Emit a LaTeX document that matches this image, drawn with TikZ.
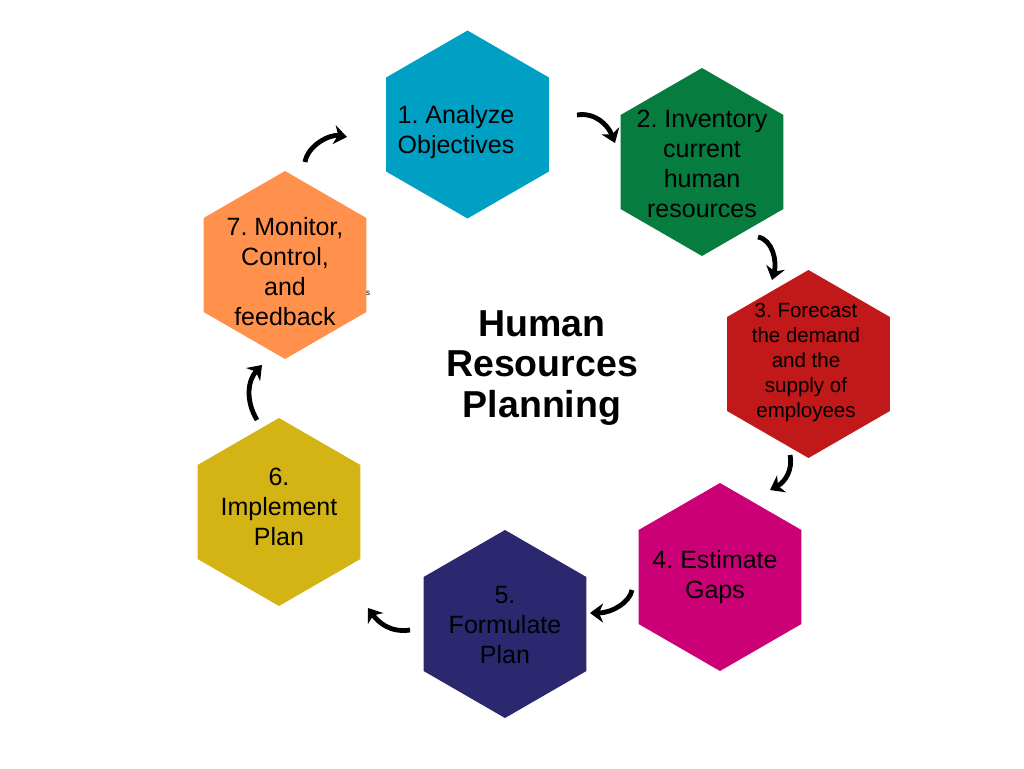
\documentclass[tikz,border=0pt]{standalone}
\usepackage{fontspec}
\setmainfont{Liberation Sans}
\usetikzlibrary{shapes.geometric,arrows.meta}
\definecolor{hcyan}{HTML}{00A0C4}
\definecolor{hgreen}{HTML}{067C3E}
\definecolor{hred}{HTML}{C1181A}
\definecolor{hmag}{HTML}{CB0077}
\definecolor{hnavy}{HTML}{2B2870}
\definecolor{hmust}{HTML}{D4B414}
\definecolor{horange}{HTML}{FF914D}
\frenchspacing
\begin{document}
\begin{tikzpicture}[x=1pt,y=-1pt,
  hexa/.style={regular polygon, regular polygon sides=6, shape border rotate=30,
    minimum size=188pt, inner sep=0pt, draw=none},
  lbl/.style={align=center, text=black, inner sep=0pt, font=\fontsize{25}{30}\selectfont},
  lblsmall/.style={align=center, text=black, inner sep=0pt, font=\fontsize{20.5}{25}\selectfont},
  arr/.style={line width=4.8pt, black, -{Stealth[length=13pt,width=19pt,inset=4pt]}}]
\useasboundingbox (0,0) rectangle (1024,768);
\fill[white] (0,0) rectangle (1024,768);

\node[hexa, fill=hcyan]   (h1) at (467.5,124.5) {};
\node[hexa, fill=hgreen]  (h2) at (702,162) {};
\node[hexa, fill=hred]    (h3) at (808.5,364) {};
\node[hexa, fill=hmag]    (h4) at (720,577) {};
\node[hexa, fill=hnavy]   (h5) at (505,624) {};
\node[hexa, fill=hmust]   (h6) at (279,512) {};
\node[hexa, fill=horange] (h7) at (285,265) {};

\node[lbl] (t1) at (456,132) {1. Analyze\\Objectives};
\node[lbl] (t2) at (702,164) {2. Inventory\\current\\human\\resources};
\node[lblsmall] (t3) at (806,362) {3. Forecast\\the demand\\and the\\supply of\\employees};
\node[lbl] (t4) at (715,577) {4. Estimate\\Gaps};
\node[lbl] (t5) at (505,625) {5.\\Formulate\\Plan};
\node[lbl] (t6) at (279,507) {6.\\Implement\\Plan};
\node[lbl] (t7) at (285,272) {7. Monitor,\\Control,\\and\\feedback};

\node[align=center, inner sep=0pt, font=\fontsize{37.5}{40.5}\selectfont\bfseries] (title) at (542,368)
  {Human\\Resources\\Planning};
\node[inner sep=0pt, font=\fontsize{8}{9}\selectfont] (s) at (368,293) {s};

\coordinate (a1s) at (305,162); \coordinate (a1e) at (347,137);
\coordinate (a2s) at (577,115); \coordinate (a2e) at (615,143);
\coordinate (a3s) at (758,237); \coordinate (a3e) at (772,280);
\coordinate (a4s) at (790,455); \coordinate (a4e) at (770,490);
\coordinate (a5s) at (632,590); \coordinate (a5e) at (590,613);
\coordinate (a6s) at (410,630); \coordinate (a6e) at (368,608);
\coordinate (a7s) at (257,420); \coordinate (a7e) at (262,365);

\draw[arr] (a1s) .. controls (308,145) and (330,134) .. (a1e);
\draw[arr] (a2s) .. controls (595,112) and (608,125) .. (a2e);
\draw[arr] (a3s) .. controls (773,240) and (777,262) .. (a3e);
\draw[arr] (a4s) .. controls (793,470) and (785,482) .. (a4e);
\draw[arr] (a5s) .. controls (630,602) and (612,613) .. (a5e);
\draw[arr] (a6s) .. controls (390,633) and (378,622) .. (a6e);
\draw[arr] (a7s) .. controls (245,400) and (248,380) .. (a7e);
\end{tikzpicture}
\end{document}
